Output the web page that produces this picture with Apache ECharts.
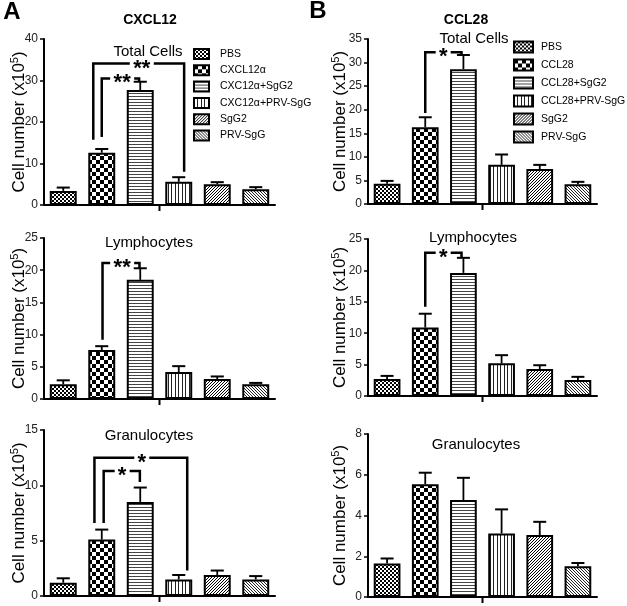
<!DOCTYPE html>
<html><head><meta charset="utf-8">
<script src="https://cdn.jsdelivr.net/npm/echarts@6/dist/echarts.min.js"></script>
<style>html,body{margin:0;padding:0;background:#fff}#c{width:627px;height:606px}</style>
</head><body><div id="c"></div>
<script>
// ---------- data ----------
const catA = ['PBS', 'CXCL12α', 'CXC12α+SgG2', 'CXC12α+PRV-SgG', 'SgG2', 'PRV-SgG'];
const catB = ['PBS', 'CCL28', 'CCL28+SgG2', 'CCL28+PRV-SgG', 'SgG2', 'PRV-SgG'];

const aTotal = [3.4, 12.6, 27.7, 5.6, 5.0, 3.8];
const aTotalErr = [0.8, 0.9, 2.0, 1.1, 0.5, 0.5];
const aLymph = [2.3, 7.6, 18.5, 4.2, 3.1, 2.3];
const aLymphErr = [0.6, 0.6, 1.8, 0.9, 0.4, 0.2];
const aGran = [1.2, 5.1, 8.5, 1.5, 1.9, 1.5];
const aGranErr = [0.4, 0.9, 1.3, 0.4, 0.4, 0.3];

const bTotal = [4.3, 16.3, 28.6, 8.3, 7.4, 4.2];
const bTotalErr = [0.6, 2.1, 3.0, 2.2, 0.9, 0.5];
const bLymph = [2.7, 10.9, 19.6, 5.2, 4.3, 2.55];
const bLymphErr = [0.5, 2.2, 2.4, 1.3, 0.6, 0.5];
const bGran = [1.64, 5.53, 4.76, 3.12, 3.04, 1.51];
const bGranErr = [0.25, 0.57, 1.09, 1.18, 0.65, 0.16];

const ticksATotal = [0, 10, 20, 30, 40];
const ticksALymph = [0, 5, 10, 15, 20, 25];
const ticksAGran = [0, 5, 10, 15];
const ticksBTotal = [0, 5, 10, 15, 20, 25, 30, 35];
const ticksBLymph = [0, 5, 10, 15, 20, 25];
const ticksBGran = [0, 2, 4, 6, 8];

const panelTitles = ['Total Cells', 'Lymphocytes', 'Granulocytes'];
const yName = 'Cell number (x10{s|5})';

// brackets: [leftCat, leftBottomVal, rightCat, rightBottomVal, topVal, labelCat, nStars]
const brATotal = [[0.78, 15.7, 3.14, 8.0, 34.1, 2.04, 2], [1.0, 16.4, 1.97, 29.7, 30.5, 1.53, 2]];
const brALymph = [[1.02, 9.2, 1.98, 20.3, 21.1, 1.53, 2]];
const brAGran = [[0.81, 6.6, 3.22, 2.3, 12.5, 2.04, 1], [1.05, 6.6, 1.99, 10.3, 11.3, 1.53, 1]];
const brBTotal = [[1.0, 19.3, 1.95, 31.5, 32.2, 1.47, 1]];
const brBLymph = [[1.0, 14.2, 1.95, 22.0, 22.8, 1.47, 1]];
const brBGran = [];

// ---------- patterns ----------
function tile(w, h, draw) {
  const c = document.createElement('canvas');
  c.width = w; c.height = h;
  const g = c.getContext('2d');
  g.fillStyle = '#fff'; g.fillRect(0, 0, w, h);
  g.fillStyle = '#000';
  draw(g, w, h);
  return { image: c, repeat: 'repeat' };
}
const patterns = [
  tile(4, 4, g => { g.fillRect(0, 0, 2, 2); g.fillRect(2, 2, 2, 2); }),
  tile(8, 8, g => { g.fillRect(0, 0, 4, 4); g.fillRect(4, 4, 4, 4); }),
  tile(1, 3, g => { g.fillStyle = '#444'; g.fillRect(0, 0, 1, 1); }),
  tile(7, 1, g => { g.fillStyle = '#222'; g.fillRect(0, 0, 1, 1); g.fillRect(3, 0, 1, 1); }),
  tile(3, 3, g => { for (let i = 0; i < 3; i++) g.fillRect(i, 2 - i, 1, 1); }),
  tile(3, 3, g => { g.fillStyle = '#222'; for (let i = 0; i < 3; i++) g.fillRect(i, i, 1, 1); })
];

const FONT = '"Liberation Sans", Arial, Helvetica, sans-serif';

const panels = [
  { grid: { left: 44, top: 39, width: 231, height: 166 }, cats: catA, vals: aTotal, err: aTotalErr, ticks: ticksATotal, br: brATotal, gap: 15 },
  { grid: { left: 44, top: 238, width: 231, height: 161 }, cats: catA, vals: aLymph, err: aLymphErr, ticks: ticksALymph, br: brALymph, gap: 15 },
  { grid: { left: 44, top: 430, width: 231, height: 166 }, cats: catA, vals: aGran, err: aGranErr, ticks: ticksAGran, br: brAGran, gap: 15 },
  { grid: { left: 368, top: 39, width: 229, height: 165 }, cats: catB, vals: bTotal, err: bTotalErr, ticks: ticksBTotal, br: brBTotal, gap: 18 },
  { grid: { left: 368, top: 239, width: 229, height: 157 }, cats: catB, vals: bLymph, err: bLymphErr, ticks: ticksBLymph, br: brBLymph, gap: 18 },
  { grid: { left: 368, top: 434, width: 229, height: 163 }, cats: catB, vals: bGran, err: bGranErr, ticks: ticksBGran, br: brBGran, gap: 18 }
];

const grids = [], xAxes = [], yAxes = [], series = [];
panels.forEach((p, pi) => {
  grids.push(Object.assign({ containLabel: false, outerBoundsMode: 'none' }, p.grid));
  xAxes.push({
    type: 'category', gridIndex: pi, data: p.cats, boundaryGap: true,
    axisLine: { lineStyle: { color: '#000', width: 2 } },
    axisTick: { show: false },
    axisLabel: { show: false }, splitLine: { show: false }
  });
  const t = p.ticks;
  yAxes.push({
    type: 'value', gridIndex: pi, min: t[0], max: t[t.length - 1], interval: t[1] - t[0],
    name: yName, nameLocation: 'middle', nameRotate: 90, nameGap: p.gap, nameMoveOverlap: false,
    nameTextStyle: {
      fontFamily: FONT, fontSize: 17, color: '#000', lineHeight: 20,
      rich: { s: { fontFamily: FONT, fontSize: 11, lineHeight: 11, verticalAlign: 'top', color: '#000' } }
    },
    axisLine: { show: true, lineStyle: { color: '#000', width: 2 } },
    axisTick: { show: true, length: 4, lineStyle: { color: '#000', width: 1.5 } },
    axisLabel: { fontFamily: FONT, fontSize: 12, color: '#222', margin: 6 },
    splitLine: { show: false }
  });
  p.cats.forEach((name, j) => {
    series.push({
      type: 'bar', name: name, xAxisIndex: pi, yAxisIndex: pi,
      data: p.vals.map((v, i) => (i === j ? v : '-')),
      barWidth: '70%', barGap: '-100%',
      itemStyle: { color: patterns[j], borderColor: '#000', borderWidth: 2 },
      z: 2
    });
  });
  // error bars (+ the single centre tick under the x axis)
  series.push({
    type: 'custom', xAxisIndex: pi, yAxisIndex: pi, z: 3,
    data: p.vals.map((v, i) => [i, v, p.err[i]]),
    renderItem: (params, api) => {
      const i = api.value(0), v = api.value(1), e = api.value(2);
      const a = api.coord([i, v]), b = api.coord([i, v + e]);
      const bw = api.size([1, 0])[0];
      const half = bw * 0.17;
      const kids = [
        { type: 'line', shape: { x1: a[0], y1: a[1], x2: b[0], y2: b[1] }, style: { stroke: '#000', lineWidth: 1.8 } },
        { type: 'line', shape: { x1: b[0] - half, y1: b[1], x2: b[0] + half, y2: b[1] }, style: { stroke: '#000', lineWidth: 2 } }
      ];
      if (params.dataIndex === 3) {
        const z = api.coord([3, 0]);
        const tx = z[0] - bw / 2;
        kids.push({ type: 'line', shape: { x1: tx, y1: z[1], x2: tx, y2: z[1] + 6 }, style: { stroke: '#000', lineWidth: 2 } });
      }
      return { type: 'group', children: kids };
    }
  });
  // significance brackets
  if (p.br.length) {
    const list = p.br;
    series.push({
      type: 'custom', xAxisIndex: pi, yAxisIndex: pi, z: 4,
      data: list.map(b => [b[5], b[4]]),
      renderItem: (params, api) => {
        const b = list[params.dataIndex];
        const bw = api.size([1, 0])[0];
        const xAt = v => { const k = Math.floor(v); return api.coord([k, 0])[0] + (v - k) * bw; };
        const yAt = v => api.coord([0, v])[1];
        const xl = xAt(b[0]), xr = xAt(b[2]), xs = xAt(b[5]);
        const yl = yAt(b[1]), yr = yAt(b[3]), yt = yAt(b[4]);
        const g = 6 + 9 * b[6];
        const st = { stroke: '#000', lineWidth: 2.5, fill: null };
        return {
          type: 'group', children: [
            { type: 'polyline', shape: { points: [[xl, yl], [xl, yt], [xs - g / 2, yt]] }, style: st },
            { type: 'polyline', shape: { points: [[xs + g / 2, yt], [xr, yt], [xr, yr]] }, style: st },
            { type: 'text', x: xs, y: yt + 5, style: { text: '*'.repeat(b[6]), font: 'bold 22px ' + FONT, fill: '#000', align: 'center', verticalAlign: 'middle' } }
          ]
        };
      }
    });
  }
});

const txt = (text, x, y, size, bold) => ({
  type: 'text', x: x, y: y,
  style: { text: text, font: (bold ? 'bold ' : '') + size + 'px ' + FONT, fill: '#000', align: 'center', verticalAlign: 'middle' }
});

const option = {
  animation: false,
  backgroundColor: '#fff',
  grid: grids, xAxis: xAxes, yAxis: yAxes, series: series,
  legend: [
    {
      data: catA, left: 193, top: 48, padding: 0, orient: 'vertical', itemWidth: 15, itemHeight: 10, itemGap: 4.3,
      selectedMode: false, icon: 'rect',
      itemStyle: { borderColor: '#000', borderWidth: 2 },
      textStyle: { fontFamily: FONT, fontSize: 10.5, color: '#000', lineHeight: 10, padding: [0, 0, 0, 6] }
    },
    {
      data: catB, left: 513, top: 40.5, padding: 0, orient: 'vertical', itemWidth: 19, itemHeight: 11, itemGap: 5,
      selectedMode: false, icon: 'rect',
      itemStyle: { borderColor: '#000', borderWidth: 2 },
      textStyle: { fontFamily: FONT, fontSize: 10.5, color: '#000', lineHeight: 11, padding: [0, 0, 0, 3] }
    }
  ],
  graphic: [
    txt('A', 12, 12, 24, true),
    txt('B', 318, 11, 24, true),
    txt('CXCL12', 150, 20, 14, true),
    txt('CCL28', 466, 20, 14, true),
    txt(panelTitles[0], 148, 52, 15, false),
    txt(panelTitles[0], 474, 39, 15, false),
    txt(panelTitles[1], 149, 243, 15, false),
    txt(panelTitles[1], 473, 238, 15, false),
    txt(panelTitles[2], 149, 436, 15, false),
    txt(panelTitles[2], 476, 445, 15, false)
  ]
};

const chart = echarts.init(document.getElementById('c'), null, { renderer: 'canvas' });
chart.setOption(option);
</script>
</body></html>
